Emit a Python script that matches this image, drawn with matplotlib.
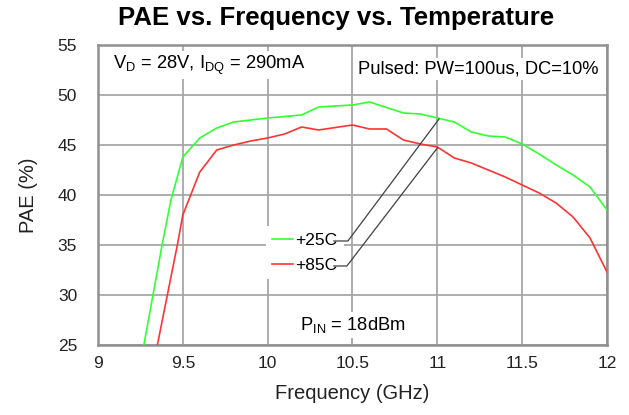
import matplotlib
matplotlib.use("Agg")
import matplotlib.pyplot as plt
from matplotlib.lines import Line2D

plt.rcParams['font.family'] = ['Liberation Sans', 'DejaVu Sans']

# PAE (%) vs frequency (GHz)
freq_25 = [9.25, 9.38, 9.43, 9.5, 9.6, 9.7, 9.8, 10.0, 10.2, 10.3, 10.5, 10.6, 10.8, 10.9,
           11.0, 11.1, 11.2, 11.3, 11.4, 11.5, 11.6, 11.7, 11.8, 11.9, 12.0]
pae_25 = [23.1, 35.2, 39.5, 43.8, 45.7, 46.7, 47.3, 47.7, 48.0, 48.8, 49.0, 49.3, 48.2, 48.1,
          47.7, 47.3, 46.3, 45.9, 45.8, 45.1, 44.1, 43.0, 42.0, 40.8, 38.5]

freq_85 = [9.33, 9.47, 9.5, 9.6, 9.7, 9.8, 9.9, 10.0, 10.1, 10.2, 10.3, 10.5, 10.6, 10.7, 10.8,
           10.9, 11.0, 11.1, 11.2, 11.3, 11.4, 11.5, 11.6, 11.7, 11.8, 11.9, 12.0]
pae_85 = [23.3, 35.2, 38.0, 42.3, 44.5, 45.0, 45.4, 45.7, 46.1, 46.8, 46.5, 47.0, 46.6, 46.6, 45.5,
          45.1, 44.8, 43.7, 43.2, 42.5, 41.8, 41.0, 40.2, 39.2, 37.8, 35.7, 32.3]

series_labels = ['+25C', '+85C']
series_colors = ['#33ff33', '#ff3333']

x_ticks = [9, 9.5, 10, 10.5, 11, 11.5, 12]
x_tick_labels = ['9', '9.5', '10', '10.5', '11', '11.5', '12']
y_ticks = [25, 30, 35, 40, 45, 50, 55]

fig = plt.figure(figsize=(6.29, 4.15), dpi=100)
ax = fig.add_axes([0.1558, 0.1687, 0.8092, 0.7229])

ax.plot(freq_25, pae_25, color=series_colors[0], lw=1.2, zorder=3)
ax.plot(freq_85, pae_85, color=series_colors[1], lw=1.2, zorder=3)

ax.set_xlim(9, 12)
ax.set_ylim(25, 55)
ax.set_xticks(x_ticks)
ax.set_xticklabels(x_tick_labels)
ax.set_yticks(y_ticks)
ax.tick_params(length=0, labelsize=12.5, labelcolor='#222222')
ax.tick_params(axis='x', pad=8)
ax.tick_params(axis='y', pad=15)
ax.grid(True, color='#a0a0a0', lw=1.2, zorder=0)
ax.set_axisbelow(True)
for sp in ax.spines.values():
    sp.set_color('#909090')
    sp.set_linewidth(1.8)

ax.set_xlabel('Frequency (GHz)', fontsize=14.5, color='#222222', labelpad=9)
ax.set_ylabel('PAE (%)', fontsize=14.5, color='#222222', labelpad=14)
fig.suptitle('PAE vs. Frequency vs. Temperature', fontsize=18.5, fontweight='bold',
             x=0.535, y=0.985, va='top')

box = dict(facecolor='white', edgecolor='none', pad=2)
ax.text(9.09, 53.0, r'V$_\mathregular{D}$ = 28V, I$_\mathregular{DQ}$ = 290mA', fontsize=13.2,
        va='center', ha='left', bbox=box, zorder=2)
ax.text(11.95, 52.6, 'Pulsed: PW=100us, DC=10%', fontsize=13.2,
        va='center', ha='right', bbox=box, zorder=2)
ax.text(10.19, 27.0, r'P$_\mathregular{IN}$ = 18dBm', fontsize=13.2,
        va='center', ha='left', bbox=box, zorder=2)

handles = [Line2D([], [], color=c, lw=1.2) for c in series_colors]
leg = ax.legend(handles, series_labels, loc='upper left', bbox_to_anchor=(0.33, 0.395),
                frameon=True, fontsize=12.5, handlelength=1.2, handletextpad=0.15,
                borderpad=0.35, labelspacing=0.6, borderaxespad=0)
leg.get_frame().set_facecolor('white')
leg.get_frame().set_edgecolor('none')
leg.get_frame().set_alpha(1)
leg.get_frame().set_boxstyle('square', pad=0)
leg.set_zorder(4)

# leader lines from legend entries to the curves
ax.plot([10.39, 10.473, 11.01], [35.4, 35.4, 47.6], color='#404040', lw=0.9, zorder=5)
ax.plot([10.39, 10.467, 11.0], [32.9, 32.9, 44.7], color='#404040', lw=0.9, zorder=5)

fig.savefig('out.png', dpi=100)
